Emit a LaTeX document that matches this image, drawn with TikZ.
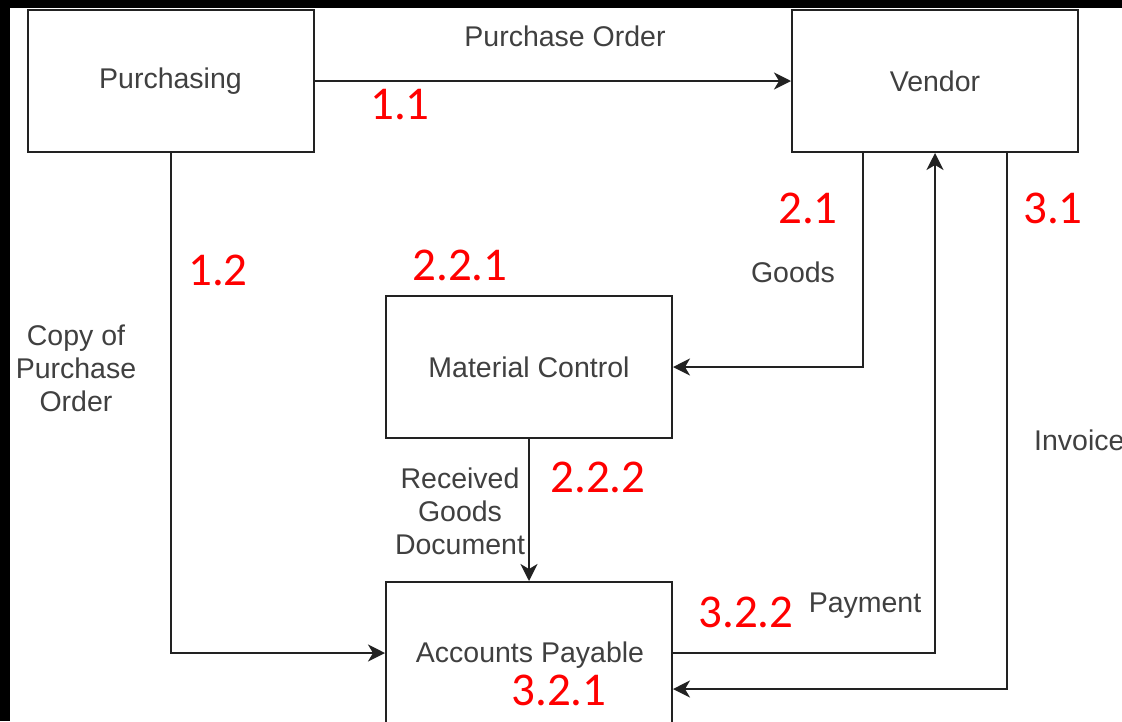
\documentclass[tikz,border=0pt]{standalone}
\usepackage{fontspec}
\setmainfont{Liberation Sans}
\newfontfamily\numfont{Carlito}
\usetikzlibrary{arrows.meta}
\definecolor{linec}{HTML}{222222}
\definecolor{txtc}{HTML}{404040}
\tikzset{
  box/.style={draw=linec, line width=2pt, fill=white, minimum width=286pt, minimum height=142pt, inner sep=0pt, font=\fontsize{28.5}{33}\selectfont, text=txtc},
  lbl/.style={inner sep=0pt, font=\fontsize{28.5}{33}\selectfont, text=txtc, align=center},
  num/.style={inner sep=0pt, font=\numfont\fontsize{47}{52}\selectfont, text=red},
  flow/.style={draw=linec, line width=2pt, -{Stealth[length=17pt,width=17pt,inset=5pt]}},
}
\begin{document}
\begin{tikzpicture}[x=1pt,y=-1pt]
\useasboundingbox (0,0) rectangle (1122,721);
\fill[black] (0,0) rectangle (1122,721);
\fill[white] (10,8) rectangle (1122,721);
\clip (0,0) rectangle (1122,721);
\node[box] (pur) at (170.5,81) {Purchasing};
\node[box] (ven) at (935,81) {Vendor};
\node[box] (mc) at (529,367) {Material Control};
\node[box] (ap) at (529,653) {};
\node[lbl] (aptxt) at (530,655) {Accounts Payable};
\draw[flow] (pur.east) -- (ven.west);
\draw[flow] (pur.south) |- (ap.west);
\draw[flow] ([xshift=-72pt]ven.south) |- (mc.east);
\draw[flow] (mc.south) -- (ap.north);
\draw[flow] (ap.east) -| (ven.south);
\draw[flow] ([xshift=72pt]ven.south) |- ([yshift=-36pt]ap.east);
\node[lbl] (lpo) at (565,36) {Purchase Order};
\node[lbl] (lcopy) at (76,368) {Copy of\\Purchase\\Order};
\node[lbl] (lgoods) at (793,272) {Goods};
\node[lbl] (lrec) at (460,511) {Received\\Goods\\Document};
\node[lbl] (lpay) at (865,606) {Payment};
\node[lbl, anchor=west] (linv) at (1034,440) {Invoice};
\node[num] (n11) at (400,105) {1.1};
\node[num] (n12) at (218,270) {1.2};
\node[num] (n221) at (460,265) {2.2.1};
\node[num] (n21) at (808,208) {2.1};
\node[num] (n31) at (1053,208) {3.1};
\node[num] (n222) at (598,477) {2.2.2};
\node[num] (n322) at (746,612) {3.2.2};
\node[num] (n321) at (559,690) {3.2.1};
\end{tikzpicture}
\end{document}
